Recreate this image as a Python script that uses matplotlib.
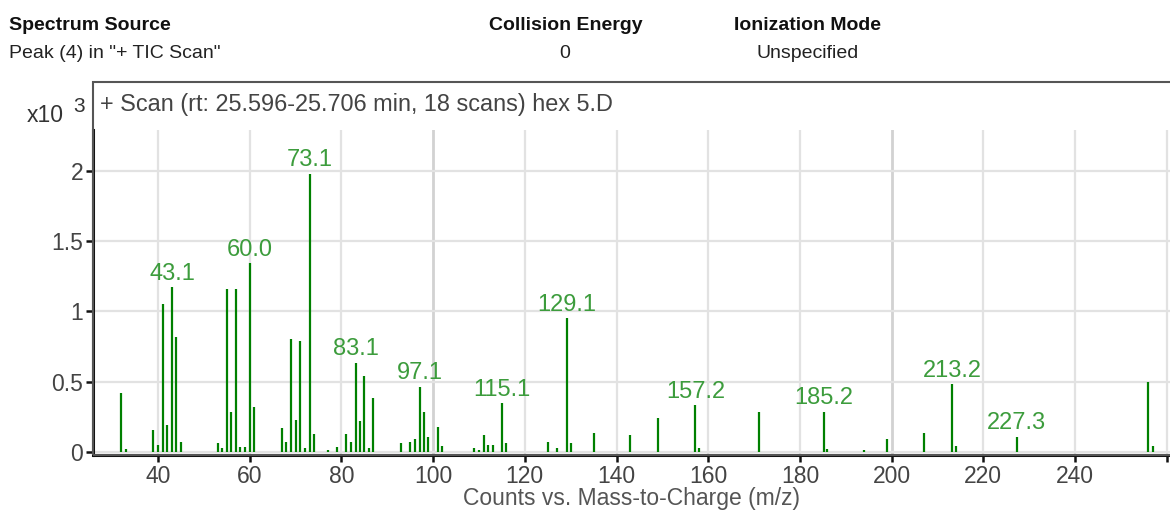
import matplotlib
matplotlib.use("Agg")
import matplotlib.pyplot as plt
from matplotlib.patches import Rectangle

plt.rcParams['font.family'] = ['Liberation Sans', 'DejaVu Sans']

# Mass spectrum: m/z positions and abundances (x10^3 counts)
mz = [32.0, 33.0, 39.0, 40.0, 41.0, 42.0, 43.1, 44.0, 45.0,
      53.0, 54.0, 55.0, 56.0, 57.0, 58.0, 59.0, 60.0, 61.0,
      67.0, 68.0, 69.0, 70.0, 71.0, 72.0, 73.1, 74.0, 77.0, 79.0,
      81.0, 82.0, 83.1, 84.0, 85.0, 86.0, 87.0,
      93.0, 95.0, 96.0, 97.1, 98.0, 99.0, 101.0, 102.0,
      109.0, 110.0, 111.0, 112.0, 113.0, 115.1, 116.0,
      125.0, 127.0, 129.1, 130.0, 135.0, 143.0, 149.0,
      157.2, 158.0, 171.0, 185.2, 186.0, 194.0, 199.0, 207.0,
      213.2, 214.0, 227.3, 256.0, 257.0]
counts = [0.42, 0.02, 0.155, 0.05, 1.05, 0.19, 1.17, 0.82, 0.07,
          0.06, 0.03, 1.16, 0.285, 1.16, 0.035, 0.035, 1.34, 0.32,
          0.17, 0.07, 0.80, 0.225, 0.79, 0.03, 1.98, 0.125, 0.01, 0.035,
          0.125, 0.07, 0.63, 0.22, 0.54, 0.03, 0.385,
          0.06, 0.07, 0.088, 0.463, 0.285, 0.107, 0.174, 0.04,
          0.024, 0.01, 0.12, 0.048, 0.05, 0.344, 0.06,
          0.067, 0.03, 0.95, 0.06, 0.135, 0.12, 0.24,
          0.33, 0.03, 0.285, 0.285, 0.02, 0.015, 0.09, 0.135,
          0.48, 0.04, 0.107, 0.50, 0.04]
labeled_mz = [43.1, 60.0, 73.1, 83.1, 97.1, 115.1, 129.1, 157.2, 185.2, 213.2, 227.3]

x_ticks = [40, 60, 80, 100, 120, 140, 160, 180, 200, 220, 240, 260]
x_tick_labels = ['40', '60', '80', '100', '120', '140', '160', '180', '200', '220', '240', '']
y_ticks = [0, 0.5, 1, 1.5, 2]
y_tick_labels = ['0', '0.5', '1', '1.5', '2']

W, H = 1170, 514
fig = plt.figure(figsize=(W / 100, H / 100), dpi=100)


def fx(px):
    return px / W


def fy(py):
    return 1 - py / H


# Header block
hdr = dict(fontsize=14, va='center')
fig.text(fx(9), fy(25), 'Spectrum Source', fontweight='bold', color='#111111', ha='left', **hdr)
fig.text(fx(9), fy(54), 'Peak (4) in "+ TIC Scan"', color='#222222', ha='left', **hdr)
fig.text(fx(566), fy(25), 'Collision Energy', fontweight='bold', color='#111111', ha='center', **hdr)
fig.text(fx(565), fy(54), '0', color='#222222', ha='center', **hdr)
fig.text(fx(808), fy(25), 'Ionization Mode', fontweight='bold', color='#111111', ha='center', **hdr)
fig.text(fx(808), fy(54), 'Unspecified', color='#222222', ha='center', **hdr)

# Plot frame with the scan caption
left_px, box_top_px, bottom_px, top_px = 93.5, 81.7, 455.0, 130.0
fig.patches.append(Rectangle((fx(left_px), fy(bottom_px)), 1.0, fy(box_top_px) - fy(bottom_px),
                             transform=fig.transFigure, fill=False,
                             edgecolor='#555555', linewidth=1.5, zorder=0))
fig.text(fx(100), fy(105), '+ Scan (rt: 25.596-25.706 min, 18 scans) hex 5.D',
         fontsize=16.9, color='#444444', ha='left', va='center')
fig.text(fx(64), fy(115), 'x10', fontsize=16.5, color='#333333', ha='right', va='center')
fig.text(fx(73), fy(107), '3', fontsize=15, color='#333333', ha='left', va='center')

ax = fig.add_axes([fx(left_px), fy(bottom_px), 1 - fx(left_px), fy(top_px) - fy(bottom_px)])
ax.set_xlim(25.95, 260.7)
ax.set_ylim(-0.023, 2.29)

# grid
for gx in x_ticks:
    heavy = gx in (100, 200)
    ax.axvline(gx, color='#d2d2d2' if heavy else '#e2e2e2', lw=2.0 if heavy else 1.6, zorder=0)
for gy in y_ticks:
    ax.axhline(gy, color='#e2e2e2', lw=1.6, zorder=0)

# spectrum sticks
ax.vlines(mz, 0, counts, colors='#008000', linewidth=1.6, zorder=2)

for m, c in zip(mz, counts):
    if m in labeled_mz:
        ax.annotate(f'{m:.1f}', xy=(m, c), xytext=(0, 2), textcoords='offset points',
                    ha='center', va='bottom', fontsize=17, color='#3c9c3c', zorder=3)

ax.set_xticks(x_ticks)
ax.set_xticklabels(x_tick_labels)
ax.set_yticks(y_ticks)
ax.set_yticklabels(y_tick_labels)
ax.tick_params(axis='both', labelsize=16.5, labelcolor='#444444', color='#111111',
               length=5, width=1.8, pad=2.5)
ax.set_xlabel('Counts vs. Mass-to-Charge (m/z)', fontsize=16.5, color='#555555',
              va='center')
ax.xaxis.set_label_coords(0.5, (bottom_px - 499) / (bottom_px - top_px))

for s in ('top', 'right'):
    ax.spines[s].set_visible(False)
for s in ('left', 'bottom'):
    ax.spines[s].set_linewidth(2.2)
    ax.spines[s].set_color('#111111')
ax.set_facecolor('white')

fig.savefig('out.png', dpi=100)
